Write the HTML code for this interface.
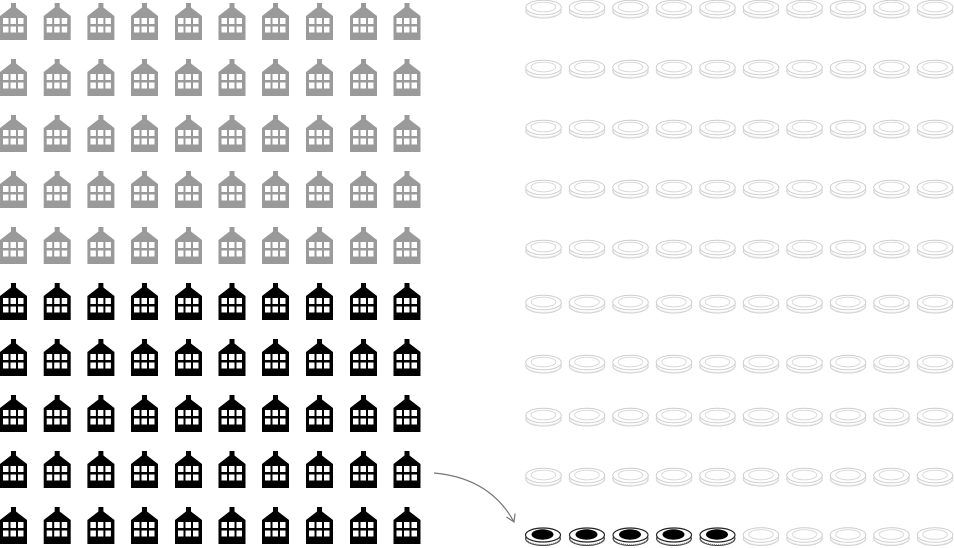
<!DOCTYPE html>
<html><head><meta charset="utf-8"><style>
html,body{margin:0;padding:0;background:#fff;}
svg{display:block;}
</style></head><body>
<svg width="954" height="548" viewBox="0 0 954 548" xmlns="http://www.w3.org/2000/svg">
<defs>
<path id="house" fill-rule="evenodd" d="M0,13 L11,4.5 L11,0 L16,0 L16,4.5 L27,13 L27,37 L0,37 Z M3,15h5.5v6h-5.5z M10.5,15h5.5v6h-5.5z M18,15h5.5v6h-5.5z M3,23.5h5.5v6h-5.5z M10.5,23.5h5.5v6h-5.5z M18,23.5h5.5v6h-5.5z"/>
<g id="coin">
<ellipse cx="0" cy="3.2" rx="17.8" ry="7.3" fill="#fff" stroke="#cdcdcd" stroke-width="1"/>
<ellipse cx="0" cy="3.2" rx="17.3" ry="6.8" fill="none" stroke="#dedede" stroke-width="1.4" stroke-dasharray="1 1"/>
<ellipse cx="0" cy="0" rx="17.8" ry="7.3" fill="#fff" stroke="#cdcdcd" stroke-width="1"/>
<ellipse cx="0" cy="-0.5" rx="12.3" ry="4.8" fill="none" stroke="#d6d6d6" stroke-width="0.9"/>
</g>
<g id="coinb">
<ellipse cx="0" cy="3.5" rx="17.5" ry="7" fill="#fff" stroke="#333" stroke-width="1"/>
<ellipse cx="0" cy="3.5" rx="17" ry="6.5" fill="none" stroke="#666" stroke-width="1.5" stroke-dasharray="1 1"/>
<ellipse cx="0" cy="0" rx="17.5" ry="7" fill="#fff" stroke="#222" stroke-width="1.2"/>
<ellipse cx="-0.5" cy="-0.5" rx="11" ry="5.2" fill="#000"/>
</g>
</defs>
<g fill="#9a9a9a">
<use href="#house" x="0" y="3"/><use href="#house" x="43.7" y="3"/><use href="#house" x="87.4" y="3"/><use href="#house" x="131" y="3"/><use href="#house" x="175" y="3"/><use href="#house" x="218.5" y="3"/><use href="#house" x="262" y="3"/><use href="#house" x="306" y="3"/><use href="#house" x="350" y="3"/><use href="#house" x="393.5" y="3"/>
<use href="#house" x="0" y="59"/><use href="#house" x="43.7" y="59"/><use href="#house" x="87.4" y="59"/><use href="#house" x="131" y="59"/><use href="#house" x="175" y="59"/><use href="#house" x="218.5" y="59"/><use href="#house" x="262" y="59"/><use href="#house" x="306" y="59"/><use href="#house" x="350" y="59"/><use href="#house" x="393.5" y="59"/>
<use href="#house" x="0" y="115"/><use href="#house" x="43.7" y="115"/><use href="#house" x="87.4" y="115"/><use href="#house" x="131" y="115"/><use href="#house" x="175" y="115"/><use href="#house" x="218.5" y="115"/><use href="#house" x="262" y="115"/><use href="#house" x="306" y="115"/><use href="#house" x="350" y="115"/><use href="#house" x="393.5" y="115"/>
<use href="#house" x="0" y="171"/><use href="#house" x="43.7" y="171"/><use href="#house" x="87.4" y="171"/><use href="#house" x="131" y="171"/><use href="#house" x="175" y="171"/><use href="#house" x="218.5" y="171"/><use href="#house" x="262" y="171"/><use href="#house" x="306" y="171"/><use href="#house" x="350" y="171"/><use href="#house" x="393.5" y="171"/>
<use href="#house" x="0" y="227"/><use href="#house" x="43.7" y="227"/><use href="#house" x="87.4" y="227"/><use href="#house" x="131" y="227"/><use href="#house" x="175" y="227"/><use href="#house" x="218.5" y="227"/><use href="#house" x="262" y="227"/><use href="#house" x="306" y="227"/><use href="#house" x="350" y="227"/><use href="#house" x="393.5" y="227"/>
</g>
<g fill="#000">
<use href="#house" x="0" y="283"/><use href="#house" x="43.7" y="283"/><use href="#house" x="87.4" y="283"/><use href="#house" x="131" y="283"/><use href="#house" x="175" y="283"/><use href="#house" x="218.5" y="283"/><use href="#house" x="262" y="283"/><use href="#house" x="306" y="283"/><use href="#house" x="350" y="283"/><use href="#house" x="393.5" y="283"/>
<use href="#house" x="0" y="339"/><use href="#house" x="43.7" y="339"/><use href="#house" x="87.4" y="339"/><use href="#house" x="131" y="339"/><use href="#house" x="175" y="339"/><use href="#house" x="218.5" y="339"/><use href="#house" x="262" y="339"/><use href="#house" x="306" y="339"/><use href="#house" x="350" y="339"/><use href="#house" x="393.5" y="339"/>
<use href="#house" x="0" y="395"/><use href="#house" x="43.7" y="395"/><use href="#house" x="87.4" y="395"/><use href="#house" x="131" y="395"/><use href="#house" x="175" y="395"/><use href="#house" x="218.5" y="395"/><use href="#house" x="262" y="395"/><use href="#house" x="306" y="395"/><use href="#house" x="350" y="395"/><use href="#house" x="393.5" y="395"/>
<use href="#house" x="0" y="451"/><use href="#house" x="43.7" y="451"/><use href="#house" x="87.4" y="451"/><use href="#house" x="131" y="451"/><use href="#house" x="175" y="451"/><use href="#house" x="218.5" y="451"/><use href="#house" x="262" y="451"/><use href="#house" x="306" y="451"/><use href="#house" x="350" y="451"/><use href="#house" x="393.5" y="451"/>
<use href="#house" x="0" y="507"/><use href="#house" x="43.7" y="507"/><use href="#house" x="87.4" y="507"/><use href="#house" x="131" y="507"/><use href="#house" x="175" y="507"/><use href="#house" x="218.5" y="507"/><use href="#house" x="262" y="507"/><use href="#house" x="306" y="507"/><use href="#house" x="350" y="507"/><use href="#house" x="393.5" y="507"/>
</g>
<g>
<use href="#coin" x="543.5" y="7.5"/><use href="#coin" x="587" y="7.5"/><use href="#coin" x="630.5" y="7.5"/><use href="#coin" x="674" y="7.5"/><use href="#coin" x="717.5" y="7.5"/><use href="#coin" x="761" y="7.5"/><use href="#coin" x="804.5" y="7.5"/><use href="#coin" x="848" y="7.5"/><use href="#coin" x="891.5" y="7.5"/><use href="#coin" x="935" y="7.5"/>
<use href="#coin" x="543.5" y="67.5"/><use href="#coin" x="587" y="67.5"/><use href="#coin" x="630.5" y="67.5"/><use href="#coin" x="674" y="67.5"/><use href="#coin" x="717.5" y="67.5"/><use href="#coin" x="761" y="67.5"/><use href="#coin" x="804.5" y="67.5"/><use href="#coin" x="848" y="67.5"/><use href="#coin" x="891.5" y="67.5"/><use href="#coin" x="935" y="67.5"/>
<use href="#coin" x="543.5" y="127.5"/><use href="#coin" x="587" y="127.5"/><use href="#coin" x="630.5" y="127.5"/><use href="#coin" x="674" y="127.5"/><use href="#coin" x="717.5" y="127.5"/><use href="#coin" x="761" y="127.5"/><use href="#coin" x="804.5" y="127.5"/><use href="#coin" x="848" y="127.5"/><use href="#coin" x="891.5" y="127.5"/><use href="#coin" x="935" y="127.5"/>
<use href="#coin" x="543.5" y="187.5"/><use href="#coin" x="587" y="187.5"/><use href="#coin" x="630.5" y="187.5"/><use href="#coin" x="674" y="187.5"/><use href="#coin" x="717.5" y="187.5"/><use href="#coin" x="761" y="187.5"/><use href="#coin" x="804.5" y="187.5"/><use href="#coin" x="848" y="187.5"/><use href="#coin" x="891.5" y="187.5"/><use href="#coin" x="935" y="187.5"/>
<use href="#coin" x="543.5" y="247.5"/><use href="#coin" x="587" y="247.5"/><use href="#coin" x="630.5" y="247.5"/><use href="#coin" x="674" y="247.5"/><use href="#coin" x="717.5" y="247.5"/><use href="#coin" x="761" y="247.5"/><use href="#coin" x="804.5" y="247.5"/><use href="#coin" x="848" y="247.5"/><use href="#coin" x="891.5" y="247.5"/><use href="#coin" x="935" y="247.5"/>
<use href="#coin" x="543.5" y="302.5"/><use href="#coin" x="587" y="302.5"/><use href="#coin" x="630.5" y="302.5"/><use href="#coin" x="674" y="302.5"/><use href="#coin" x="717.5" y="302.5"/><use href="#coin" x="761" y="302.5"/><use href="#coin" x="804.5" y="302.5"/><use href="#coin" x="848" y="302.5"/><use href="#coin" x="891.5" y="302.5"/><use href="#coin" x="935" y="302.5"/>
<use href="#coin" x="543.5" y="362.5"/><use href="#coin" x="587" y="362.5"/><use href="#coin" x="630.5" y="362.5"/><use href="#coin" x="674" y="362.5"/><use href="#coin" x="717.5" y="362.5"/><use href="#coin" x="761" y="362.5"/><use href="#coin" x="804.5" y="362.5"/><use href="#coin" x="848" y="362.5"/><use href="#coin" x="891.5" y="362.5"/><use href="#coin" x="935" y="362.5"/>
<use href="#coin" x="543.5" y="415.5"/><use href="#coin" x="587" y="415.5"/><use href="#coin" x="630.5" y="415.5"/><use href="#coin" x="674" y="415.5"/><use href="#coin" x="717.5" y="415.5"/><use href="#coin" x="761" y="415.5"/><use href="#coin" x="804.5" y="415.5"/><use href="#coin" x="848" y="415.5"/><use href="#coin" x="891.5" y="415.5"/><use href="#coin" x="935" y="415.5"/>
<use href="#coin" x="543.5" y="475.5"/><use href="#coin" x="587" y="475.5"/><use href="#coin" x="630.5" y="475.5"/><use href="#coin" x="674" y="475.5"/><use href="#coin" x="717.5" y="475.5"/><use href="#coin" x="761" y="475.5"/><use href="#coin" x="804.5" y="475.5"/><use href="#coin" x="848" y="475.5"/><use href="#coin" x="891.5" y="475.5"/><use href="#coin" x="935" y="475.5"/>
<use href="#coinb" x="543" y="535"/><use href="#coinb" x="587" y="535"/><use href="#coinb" x="630.5" y="535"/><use href="#coinb" x="674" y="535"/><use href="#coinb" x="717.5" y="535"/><use href="#coin" x="761" y="535"/><use href="#coin" x="804.5" y="535"/><use href="#coin" x="848" y="535"/><use href="#coin" x="891.5" y="535"/><use href="#coin" x="935" y="535"/>
</g>
<path d="M434,473 Q490,478 514,522" fill="none" stroke="#777" stroke-width="1.2"/>
<path d="M506.5,517 L514,522 L515,513.5" fill="none" stroke="#777" stroke-width="1.2"/>
</svg>
</body></html>
